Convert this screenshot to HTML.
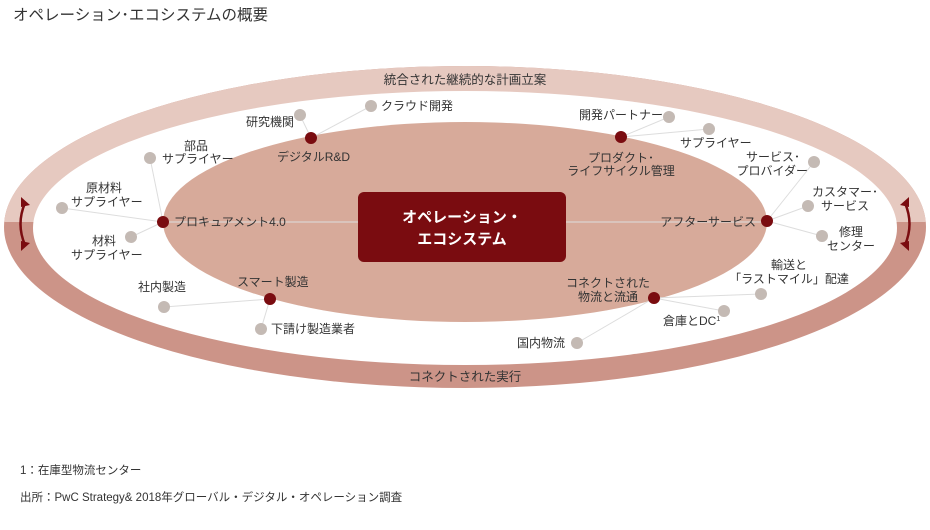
<!DOCTYPE html>
<html><head><meta charset="utf-8"><style>
html,body{margin:0;padding:0;background:#fff;}
svg{display:block;font-family:"Liberation Sans","Noto Sans CJK JP",sans-serif;}
text{fill:#333;font-size:12px;}
</style></head><body>
<svg width="930" height="530" viewBox="0 0 930 530">
<defs><clipPath id="top"><rect x="0" y="0" width="930" height="222"/></clipPath></defs>
<text x="13" y="20" style="font-size:15.5px;fill:#333">オペレーション･エコシステムの概要</text>
<ellipse cx="465" cy="227" rx="461" ry="161" fill="#cc9488"/>
<ellipse cx="465" cy="227" rx="461" ry="161" fill="#e6c9c0" clip-path="url(#top)"/>
<ellipse cx="465" cy="228" rx="432" ry="137" fill="#fff"/>
<ellipse cx="465" cy="222" rx="302" ry="100" fill="#d7aa9a"/>
<text x="465" y="84" text-anchor="middle" style="font-size:12.5px">統合された継続的な計画立案</text>
<text x="465" y="381" text-anchor="middle" style="font-size:12.5px">コネクトされた実行</text>
<g stroke="#7a0c10" stroke-width="2.5" fill="none">
<path d="M25 203 Q16 224 25 245"/><path d="M905 203 Q914 224 905 245"/>
</g>
<g fill="#7a0c10">
<polygon points="21,197 30,205 21,207"/><polygon points="21,251 30,243 21,241"/>
<polygon points="909,197 900,205 909,207"/><polygon points="909,251 900,243 909,241"/>
</g>
<g stroke="#ddd" stroke-width="1">
<line x1="163" y1="222" x2="358" y2="222"/><line x1="566" y1="222" x2="767" y2="222"/>
<line x1="311" y1="138" x2="300" y2="115"/><line x1="311" y1="138" x2="371" y2="106"/>
<line x1="163" y1="222" x2="150" y2="158"/><line x1="163" y1="222" x2="62" y2="208"/><line x1="163" y1="222" x2="131" y2="237"/>
<line x1="270" y1="299" x2="164" y2="307"/><line x1="270" y1="299" x2="261" y2="329"/>
<line x1="621" y1="137" x2="669" y2="117"/><line x1="621" y1="137" x2="709" y2="129"/>
<line x1="767" y1="221" x2="814" y2="162"/><line x1="767" y1="221" x2="808" y2="206"/><line x1="767" y1="221" x2="822" y2="236"/>
<line x1="654" y1="298" x2="761" y2="294"/><line x1="654" y1="298" x2="724" y2="311"/><line x1="654" y1="298" x2="577" y2="343"/>
</g>
<rect x="358" y="192" width="208" height="70" rx="6" fill="#7a0c10"/>
<text x="462" y="222" text-anchor="middle" style="fill:#fff;font-size:15px;font-weight:bold">オペレーション・</text>
<text x="462" y="244" text-anchor="middle" style="fill:#fff;font-size:15px;font-weight:bold">エコシステム</text>
<g fill="#c4bab4">
<circle cx="300" cy="115" r="6"/><circle cx="371" cy="106" r="6"/><circle cx="150" cy="158" r="6"/>
<circle cx="62" cy="208" r="6"/><circle cx="131" cy="237" r="6"/><circle cx="164" cy="307" r="6"/>
<circle cx="261" cy="329" r="6"/><circle cx="669" cy="117" r="6"/><circle cx="709" cy="129" r="6"/>
<circle cx="814" cy="162" r="6"/><circle cx="808" cy="206" r="6"/><circle cx="822" cy="236" r="6"/>
<circle cx="761" cy="294" r="6"/><circle cx="724" cy="311" r="6"/><circle cx="577" cy="343" r="6"/>
</g>
<g fill="#7a0c10">
<circle cx="311" cy="138" r="6"/><circle cx="163" cy="222" r="6"/><circle cx="270" cy="299" r="6"/>
<circle cx="621" cy="137" r="6"/><circle cx="767" cy="221" r="6"/><circle cx="654" cy="298" r="6"/>
</g>
<text x="246" y="126">研究機関</text>
<text x="381" y="110">クラウド開発</text>
<text x="277" y="161">デジタルR&amp;D</text>
<text x="196" y="150" text-anchor="middle">部品</text>
<text x="162" y="163">サプライヤー</text>
<text x="104" y="192" text-anchor="middle">原材料</text>
<text x="71" y="206">サプライヤー</text>
<text x="104" y="245" text-anchor="middle">材料</text>
<text x="71" y="259">サプライヤー</text>
<text x="174" y="226">プロキュアメント4.0</text>
<text x="237" y="286">スマート製造</text>
<text x="138" y="291">社内製造</text>
<text x="271" y="333">下請け製造業者</text>
<text x="579" y="119">開発パートナー</text>
<text x="680" y="147">サプライヤー</text>
<text x="621" y="162" text-anchor="middle">プロダクト･</text>
<text x="621" y="175" text-anchor="middle">ライフサイクル管理</text>
<text x="800" y="161" text-anchor="end">サービス･</text>
<text x="808" y="175" text-anchor="end">プロバイダー</text>
<text x="845" y="196" text-anchor="middle">カスタマー･</text>
<text x="845" y="210" text-anchor="middle">サービス</text>
<text x="851" y="236" text-anchor="middle">修理</text>
<text x="851" y="250" text-anchor="middle">センター</text>
<text x="756" y="226" text-anchor="end">アフターサービス</text>
<text x="789" y="269" text-anchor="middle">輸送と</text>
<text x="789" y="283" text-anchor="middle">「ラストマイル」配達</text>
<text x="608" y="287" text-anchor="middle">コネクトされた</text>
<text x="608" y="301" text-anchor="middle">物流と流通</text>
<text x="663" y="325">倉庫とDC<tspan style="font-size:7px" dy="-4">1</tspan></text>
<text x="517" y="347">国内物流</text>
<text x="20" y="474" style="font-size:11.5px">1：在庫型物流センター</text>
<text x="20" y="501" style="font-size:11.5px">出所：PwC Strategy&amp; 2018年グローバル・デジタル・オペレーション調査</text>
</svg>
</body></html>
